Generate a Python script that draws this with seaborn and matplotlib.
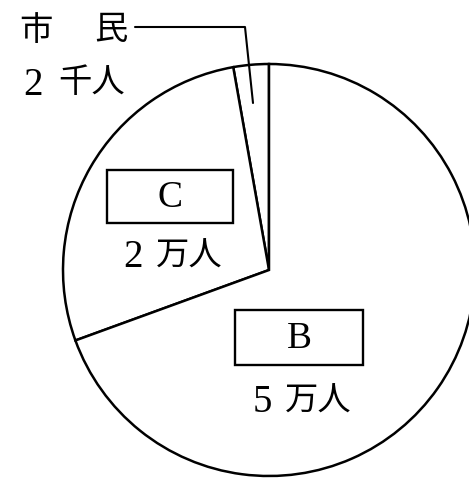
import matplotlib
matplotlib.use("Agg")
import matplotlib.pyplot as plt
from matplotlib.patches import Rectangle
import seaborn as sns

# data (thousand people)
groups = ["市民", "C", "B"]
people = [2, 20, 50]
amount_nums = ["2", "2", "5"]
amount_units = ["千人", "万人", "万人"]

W, H = 469, 482

sns.set_theme(style="white")
plt.rcParams["font.family"] = ["Liberation Serif", "Noto Sans CJK JP"]


def py(y):
    # pixel row -> data y (y up)
    return H - y


fig = plt.figure(figsize=(W / 100, H / 100), dpi=100)
ax = fig.add_axes([0, 0, 1, 1])

cx, cy, r = 269, 270, 206
ax.pie(people, startangle=90, counterclock=True, center=(cx, py(cy)),
       radius=r, colors=["white"] * len(people), frame=True,
       wedgeprops=dict(edgecolor="black", linewidth=1.8))
ax.set_xlim(0, W)
ax.set_ylim(0, H)
ax.axis("off")

# boxed names for C and B
boxes = {"C": (107, 170, 126, 53), "B": (235, 310, 128, 55)}
for name in ["C", "B"]:
    x, y, w, h = boxes[name]
    ax.add_patch(Rectangle((x, py(y + h)), w, h, fill=False,
                           edgecolor="black", linewidth=1.7))
    ax.text(x + w / 2, py(y + h / 2) - 1, name, ha="center", va="center",
            fontsize=27, color="black")

# amounts: digit (baseline) and unit (centre), pixel positions
amount_pos = [((33, 95), (92, 84)),
              ((133, 267), (189, 257)),
              ((262, 412), (318, 402))]
for num, unit, (dpos, upos) in zip(amount_nums, amount_units, amount_pos):
    ax.text(dpos[0], py(dpos[1]), num, ha="center", va="baseline",
            fontsize=28, color="black")
    ax.text(upos[0], py(upos[1]), unit, ha="center", va="center",
            fontsize=24, color="black")

# 市民 label, characters spread apart, with leader line
ax.text(36, py(32), groups[0][0], ha="center", va="center", fontsize=24,
        color="black")
ax.text(111, py(31), groups[0][1], ha="center", va="center", fontsize=24,
        color="black")
ax.plot([135, 245, 253], [py(27), py(27), py(103)], color="black",
        linewidth=1.5)

fig.savefig("out.png", dpi=100, facecolor="white")
